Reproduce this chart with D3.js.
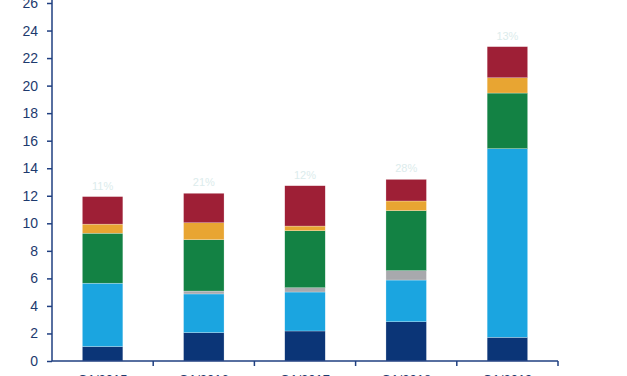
<!DOCTYPE html>
<html><head><meta charset="utf-8">
<script src="https://cdn.jsdelivr.net/npm/d3@7"></script>
<style>body{margin:0;background:#fff}svg{display:block}</style>
</head><body>
<script>
const categories = ["Q1/2015","Q1/2016","Q1/2017","Q1/2018","Q1/2019"];
const seriesNames = ["s1","s2","s3","s4","s5","s6"];
const s1 = [1.05, 2.06, 2.18, 2.85, 1.72];
const s2 = [4.60, 2.81, 2.83, 3.03, 13.70];
const s3 = [0.00, 0.21, 0.31, 0.68, 0.00];
const s4 = [3.63, 3.73, 4.14, 4.36, 4.04];
const s5 = [0.66, 1.23, 0.34, 0.70, 1.11];
const s6 = [2.00, 2.14, 2.93, 1.57, 2.26];
const pctLabels = ["11%","21%","12%","28%","13%"];
const yTicks = [0,2,4,6,8,10,12,14,16,18,20,22,24,26];
const colors = ["#0b3577","#1ba5e0","#a8a9ad","#138244","#e8a532","#9e1f36"];

const W = 627, H = 376;
const m = {left:52, right:69, top:3, bottom:15};
const svg = d3.select("body").append("svg").attr("width",W).attr("height",H);

const x = d3.scaleBand().domain(categories).range([m.left, W-m.right]).paddingInner(0.6).paddingOuter(0.3);
const xb = d3.scaleBand().domain(categories).range([m.left, W-m.right]);
const y = d3.scaleLinear().domain([0,26]).range([H-m.bottom, m.top]);

const rows = categories.map((c,i)=>({cat:c, s1:s1[i], s2:s2[i], s3:s3[i], s4:s4[i], s5:s5[i], s6:s6[i]}));
const stack = d3.stack().keys(seriesNames)(rows);

svg.append("g").selectAll("g").data(stack).join("g")
  .attr("fill",(d,i)=>colors[i])
  .selectAll("rect").data(d=>d).join("rect")
  .attr("x",d=>x(d.data.cat))
  .attr("width",x.bandwidth())
  .attr("y",d=>y(d[1]))
  .attr("height",d=>Math.max(0,y(d[0])-y(d[1])))
  .attr("stroke","#ffffff").attr("stroke-opacity",0.5).attr("stroke-width",0.5);

const totals = rows.map(r=>seriesNames.reduce((a,k)=>a+r[k],0));
svg.append("g").selectAll("text").data(categories).join("text")
  .attr("x",c=>x(c)+x.bandwidth()/2)
  .attr("y",(c,i)=>y(totals[i])-7)
  .attr("text-anchor","middle")
  .attr("font-family","Liberation Sans, Arial, sans-serif")
  .attr("font-size",11)
  .attr("fill","#dcecec")
  .text((c,i)=>pctLabels[i]);

const axisColor = "#1f3f80";
const yAxis = svg.append("g").attr("transform",`translate(${m.left},0)`)
  .call(d3.axisLeft(y).tickValues(yTicks).tickSize(5).tickPadding(9).tickFormat(d3.format("d")));
yAxis.selectAll("path,line").attr("stroke",axisColor).attr("stroke-width",1.5);
yAxis.select("path").attr("d",`M0,${y(26)-3}V${y(0)}`);
yAxis.selectAll("text").attr("fill","#1d3a6e").attr("font-size",14)
  .attr("font-family","Liberation Sans, Arial, sans-serif");

const xAxis = svg.append("g").attr("transform",`translate(0,${y(0)})`)
  .call(d3.axisBottom(xb).tickSize(0).tickPadding(14));
xAxis.select("path").attr("stroke",axisColor).attr("stroke-width",1.5).attr("d",`M${m.left},0H${W-m.right}`);
xAxis.selectAll("text").attr("fill","#1d3a6e").attr("font-size",13)
  .attr("font-family","Liberation Sans, Arial, sans-serif");
// separator ticks between categories
svg.append("g").selectAll("line").data(categories).join("line")
  .attr("x1",c=>xb(c)+xb.bandwidth()).attr("x2",c=>xb(c)+xb.bandwidth())
  .attr("y1",y(0)).attr("y2",y(0)+5)
  .attr("stroke",axisColor).attr("stroke-width",1.5);
</script>
</body></html>
